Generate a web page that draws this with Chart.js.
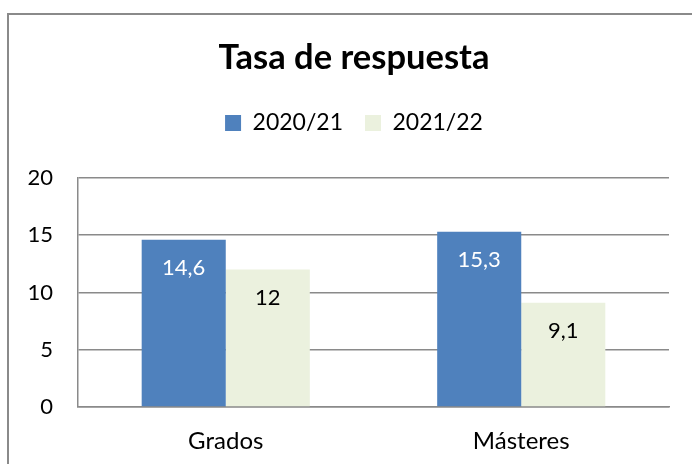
<!DOCTYPE html>
<html><head><meta charset="utf-8">
<script src="https://cdn.jsdelivr.net/npm/chart.js@4"></script>
<style>
html,body{margin:0;padding:0;background:#fff;overflow:hidden;width:692px;height:464px;}
#frame{position:absolute;left:7px;top:13px;width:1000px;height:1000px;border-left:2px solid #8a8a8a;border-top:2px solid #8a8a8a;}
#c{position:absolute;left:0;top:0;}
</style></head><body>
<div id="frame"></div>
<canvas id="c" width="692" height="464"></canvas>
<script>
const categories = ['Grados', 'Másteres'];
const seriesNames = ['2020/21', '2021/22'];
const values2020 = [14.6, 15.3];
const values2021 = [12, 9.1];
const yTicks = [0, 5, 10, 15, 20];

Chart.defaults.font.family = 'Lato';
Chart.defaults.color = '#000';

const legendGap = {
  id: 'legendGap',
  beforeInit(chart) {
    const lg = chart.legend;
    if (!lg || lg._gapWrapped) return;
    const orig = lg.fit;
    lg.fit = function () { orig.apply(this, arguments); this.height += 33.5; };
    lg._gapWrapped = true;
  }
};

const dataLabels = {
  id: 'dataLabels',
  afterDatasetsDraw(chart) {
    const ctx = chart.ctx;
    ctx.save();
    ctx.font = '22px Lato';
    ctx.textAlign = 'center';
    ctx.textBaseline = 'middle';
    chart.data.datasets.forEach((ds, i) => {
      const meta = chart.getDatasetMeta(i);
      meta.data.forEach((el, j) => {
        ctx.fillStyle = ds.labelColor;
        ctx.fillText(String(ds.data[j]).replace('.', ','), el.x, el.y + 28.5);
      });
    });
    ctx.restore();
  }
};

new Chart(document.getElementById('c'), {
  type: 'bar',
  data: {
    labels: categories,
    datasets: [
      { label: seriesNames[0], data: values2020, backgroundColor: '#4F81BD', borderWidth: 0, labelColor: '#ffffff' },
      { label: seriesNames[1], data: values2021, backgroundColor: '#EBF1DE', borderWidth: 0, labelColor: '#000000' }
    ]
  },
  options: {
    responsive: false,
    animation: false,
    devicePixelRatio: 1,
    layout: { padding: { top: 20, left: 26, right: 10, bottom: 0 } },
    datasets: { bar: { categoryPercentage: 0.569, barPercentage: 1 } },
    plugins: {
      title: {
        display: true, text: 'Tasa de respuesta', color: '#000',
        font: { size: 34.5, weight: 'bold' },
        padding: { top: 17, bottom: 11 }
      },
      legend: {
        display: true, position: 'top',
        labels: { boxWidth: 16, boxHeight: 16, padding: 22, color: '#000', font: { size: 23 } }
      },
      tooltip: { enabled: false }
    },
    scales: {
      x: {
        afterFit: s => { s.height = 57; },
        grid: { display: false, drawTicks: false },
        border: { display: true, color: '#8a8a8a', width: 1.5 },
        ticks: { padding: 20, color: '#000', font: { size: 24 } }
      },
      y: {
        min: 0, max: 20,
        afterBuildTicks: s => { s.ticks = yTicks.map(v => ({ value: v })); },
        afterFit: s => { s.width = 52; },
        grid: { color: '#8a8a8a', lineWidth: 1.5, drawTicks: false },
        border: { display: true, color: '#8a8a8a', width: 1.5 },
        ticks: { padding: 25, color: '#000', font: { size: 22 } }
      },
      yRight: {
        position: 'right',
        display: true,
        afterFit: s => { s.width = 13; },
        grid: { display: false, drawTicks: false },
        border: { display: false },
        ticks: { display: false }
      }
    }
  },
  plugins: [legendGap, dataLabels]
});
</script>
</body></html>
